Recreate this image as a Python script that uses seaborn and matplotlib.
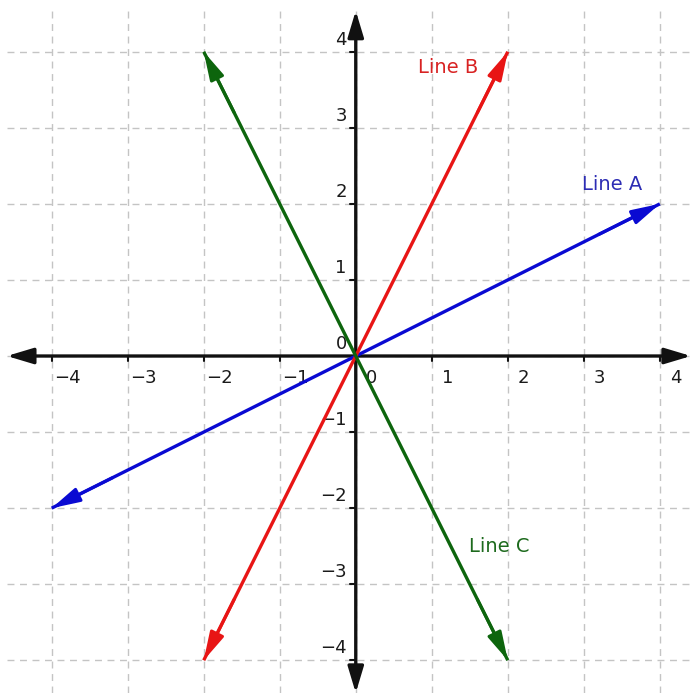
import matplotlib
matplotlib.use("Agg")
import matplotlib.pyplot as plt
import numpy as np
import pandas as pd
import seaborn as sns

# grid / tick values
tick_vals = [-4, -3, -2, -1, 0, 1, 2, 3, 4]
x_tick_labels = ["−4", "−3", "−2", "−1", "0", "1", "2", "3", "4"]
y_tick_labels = ["−4", "−3", "−2", "−1", "0", "1", "2", "3", "4"]

# the three lines (end points)
line_names = ["Line A", "Line B", "Line C"]
line_x = [[-4, 4], [-2, 2], [-2, 2]]
line_y = [[-2, 2], [-4, 4], [4, -4]]
line_colors = ["#0a0ad2", "#e81515", "#0d650d"]
label_colors = ["#2d2db4", "#d82222", "#1d6a1d"]
label_pos = [(3.37, 2.25), (1.22, 3.79), (1.89, -2.51)]

XLIM = (-4.68, 4.41)
YLIM = (-4.43, 4.68)

sns.set_style("white")
plt.rcParams["font.family"] = ["DejaVu Sans"]

fig = plt.figure(figsize=(6.91, 6.93), dpi=100)
ax = fig.add_axes([0, 0, 1, 1])
ax.set_xlim(*XLIM)
ax.set_ylim(*YLIM)
ax.axis("off")

# dashed grid
grid_kw = dict(color="#c4c4c4", lw=1.0, linestyles=(0, (5, 4)), zorder=0)
ax.vlines(tick_vals, YLIM[0], 4.54, **grid_kw)
ax.hlines(tick_vals, -4.59, XLIM[1], **grid_kw)

# axes with arrow heads
head = dict(arrowstyle="<|-|>,head_length=0.8,head_width=0.24",
            color="#111111", lw=2.4, shrinkA=0, shrinkB=0, mutation_scale=20)
ax.annotate("", xy=(XLIM[1], 0), xytext=(-4.59, 0), arrowprops=head, zorder=2)
ax.annotate("", xy=(0, 4.54), xytext=(0, YLIM[0]), arrowprops=head, zorder=2)

# small ticks on axes
for v in tick_vals:
    if v == 0:
        continue
    ax.plot([v, v], [0, -0.07], color="#111111", lw=1.5, zorder=2)
    ax.plot([0, -0.07], [v, v], color="#111111", lw=1.5, zorder=2)

# tick labels
for v, lab in zip(tick_vals, x_tick_labels):
    ax.annotate(lab, xy=(v, 0), xytext=(11.5, -15.5), textcoords="offset points",
                ha="center", va="center", fontsize=13, color="#1a1a1a")
for v, lab in zip(tick_vals, y_tick_labels):
    ax.annotate(lab, xy=(0, v), xytext=(-6.5, 8.5), textcoords="offset points",
                ha="right", va="center", fontsize=13, color="#1a1a1a")

# lines
for name, xs, ys, c, lc, (tx, ty) in zip(line_names, line_x, line_y,
                                         line_colors, label_colors, label_pos):
    df = pd.DataFrame({"x": xs, "y": ys})
    sns.lineplot(data=df, x="x", y="y", color=c, lw=2.4, ax=ax, sort=False,
                 solid_capstyle="butt", zorder=3)
    arr = dict(arrowstyle="-|>,head_length=0.85,head_width=0.22",
               color=c, lw=2.2, shrinkA=0, shrinkB=0, mutation_scale=20)
    dx, dy = xs[1] - xs[0], ys[1] - ys[0]
    ax.annotate("", xy=(xs[1], ys[1]), xytext=(xs[1] - 0.1 * dx, ys[1] - 0.1 * dy),
                arrowprops=arr, zorder=3)
    ax.annotate("", xy=(xs[0], ys[0]), xytext=(xs[0] + 0.1 * dx, ys[0] + 0.1 * dy),
                arrowprops=arr, zorder=3)
    ax.text(tx, ty, name, color=lc, fontsize=14, ha="center", va="center", zorder=4)

ax.set_xlabel("")
ax.set_ylabel("")
fig.savefig("out.png", dpi=100)
